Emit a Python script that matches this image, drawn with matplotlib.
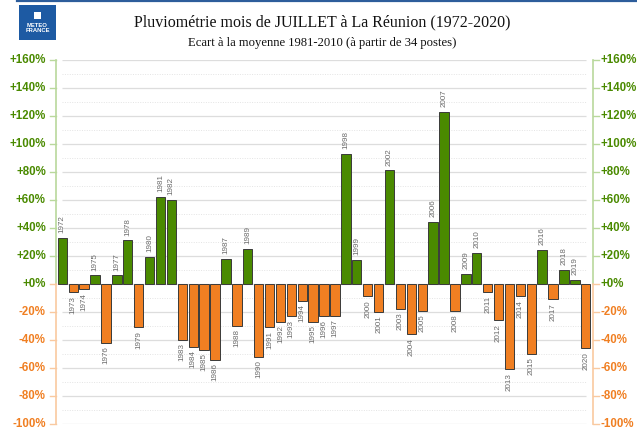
import numpy as np
import matplotlib
matplotlib.use('Agg')
import matplotlib.pyplot as plt
from matplotlib.lines import Line2D
from matplotlib.patches import Rectangle

# Ecart (%) a la moyenne 1981-2010, mois de juillet
years = list(range(1972, 2021))
ecart = [33, -6, -4, 6, -42, 6, 31, -31, 19, 62,
         60, -40, -45, -47, -54, 18, -30, 25, -52, -31,
         -27, -23, -12, -27, -23, -23, 93, 17, -9, -20,
         81, -18, -36, -19, 44, 123, -19, 7, 22, -6,
         -26, -61, -9, -50, 24, -11, 10, 3, -46]

GREEN = '#4a8a00'
ORANGE = '#f07f22'
LIGHT_GREEN = '#b9d89c'
LIGHT_ORANGE = '#f9c9a0'

fig = plt.figure(figsize=(6.37, 4.30), dpi=100)
ax = fig.add_axes([56 / 637, 1 - 424 / 430, (593 - 56) / 637, (424 - 59.7) / 430])

x = np.arange(len(years))
vals = np.array(ecart)
colors = [GREEN if v >= 0 else ORANGE for v in vals]
ax.bar(x, vals, width=0.86, color=colors, edgecolor='#3a3a3a', linewidth=0.7, zorder=3)

# year labels above / below the bars
for xi, yr, v in zip(x, years, vals):
    if v >= 0:
        ax.annotate(str(yr), (xi, v), xytext=(0, 3.5), textcoords='offset points',
                    rotation=90, ha='center', va='bottom', fontsize=5.8,
                    color='#6a6a6a', family='Liberation Sans')
    else:
        ax.annotate(str(yr), (xi, v), xytext=(0, -2.5), textcoords='offset points',
                    rotation=90, ha='center', va='top', fontsize=5.8,
                    color='#6a6a6a', family='Liberation Sans')

# grid: solid every 20 %, dotted in between
for g in range(-100, 161, 20):
    ax.hlines(g, 0, len(years) - 1, color='#dddddd', linewidth=0.9, zorder=1)
for g in range(-90, 160, 20):
    ax.hlines(g, 0, len(years) - 1, color='#e4e4e4', linewidth=0.7,
              linestyle=(0, (1, 1.5)), zorder=1)

ax.set_xlim(-0.58, len(years) - 1 + 0.66)
ax.set_ylim(-100, 160)
for s in ax.spines.values():
    s.set_visible(False)
ax.set_xticks([])
ax.set_yticks([])

# coloured axes on both sides
ytr = ax.get_yaxis_transform()
for xa in (0, 1):
    ax.plot([xa, xa], [0, 160], transform=ytr, color=LIGHT_GREEN, lw=1.2, clip_on=False)
    ax.plot([xa, xa], [-100, 0], transform=ytr, color=LIGHT_ORANGE, lw=1.2, clip_on=False)

ticks = list(range(-100, 161, 20))
for t in ticks:
    col = GREEN if t >= 0 else ORANGE
    tcol = LIGHT_GREEN if t > 0 else LIGHT_ORANGE
    lab = f'+{t}%' if t >= 0 else f'{t}%'
    ax.plot([-0.012, 0], [t, t], transform=ytr, color=tcol, lw=1, clip_on=False)
    ax.plot([1, 1.012], [t, t], transform=ytr, color=tcol, lw=1, clip_on=False)
    ax.text(-0.019, t, lab, transform=ytr, ha='right', va='center', fontsize=8.3,
            fontweight='bold', color=col, family='Liberation Sans')
    ax.text(1.014, t, lab, transform=ytr, ha='left', va='center', fontsize=8.3,
            fontweight='bold', color=col, family='Liberation Sans')

# titles
fig.text(322 / 637, 1 - 22 / 430, 'Pluviométrie mois de JUILLET à La Réunion (1972-2020)',
         ha='center', va='center', fontsize=11.5, family='Liberation Serif', color='#111111')
fig.text(322 / 637, 1 - 43 / 430, 'Ecart à la moyenne 1981-2010 (à partir de 34 postes)',
         ha='center', va='center', fontsize=9.05, family='Liberation Serif', color='#111111')

# top blue rule and logo
fig.add_artist(Line2D([17 / 637, 1], [1 - 0.8 / 430, 1 - 0.8 / 430],
                      color='#2d5d9b', lw=1.6, transform=fig.transFigure))
fig.add_artist(Rectangle((19 / 637, 1 - 40 / 430), 37 / 637, 35 / 430,
                         facecolor='#1d5aa3', edgecolor='none', transform=fig.transFigure))
fig.add_artist(Rectangle((34 / 637, 1 - 19 / 430), 7 / 637, 7 / 430,
                         facecolor='white', edgecolor='none', transform=fig.transFigure))
fig.text(37.5 / 637, 1 - 25.5 / 430, 'METEO', ha='center', va='center', fontsize=4.2,
         fontweight='bold', color='white', family='Liberation Sans')
fig.text(37.5 / 637, 1 - 31 / 430, 'FRANCE', ha='center', va='center', fontsize=4.2,
         fontweight='bold', color='white', family='Liberation Sans')

fig.savefig('out.png', dpi=100)
